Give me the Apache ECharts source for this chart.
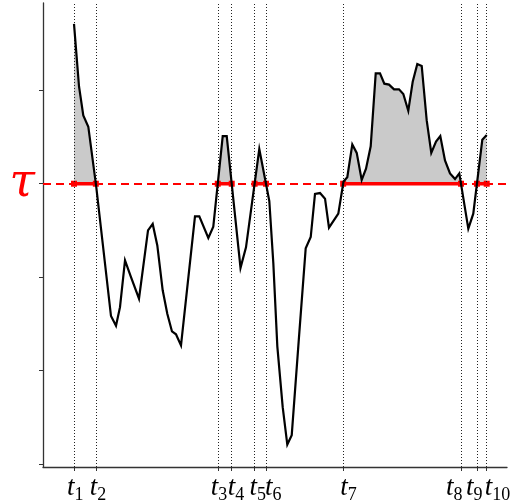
<!DOCTYPE html>
<html>
<head>
<meta charset="utf-8">
<script src="https://cdn.jsdelivr.net/npm/echarts@6/dist/echarts.min.js"></script>
<style>
  html, body { margin: 0; padding: 0; background: #ffffff; }
  #chart { width: 514px; height: 501px; }
</style>
</head>
<body>
<div id="chart"></div>
<script>
// Signal samples (time, value); the threshold tau sits at 0
const times = [
  0, 1.09, 2.02, 3.11, 4.83, 8.04, 9.13, 10.0, 11.09, 12.33, 14.13, 16.09, 17.11,
  18.11, 19.28, 20.28, 21.3, 22.17, 23.26, 26.3, 27.24, 29.2, 30.28, 32.33, 33.2,
  36.2, 37.39, 40.28, 42.46, 43.33, 44.2, 45.37, 46.37, 47.33, 48.91, 50.37, 51.46,
  52.39, 53.48, 54.57, 55.43, 57.46, 58.59, 59.41, 60.5, 61.46, 62.54, 63.48, 64.5,
  65.59, 66.52, 67.46, 68.48, 69.57, 70.65, 71.59, 72.67, 73.63, 74.63, 75.59,
  76.67, 77.67, 78.7, 79.63, 80.65, 81.74, 82.83, 83.76, 85.72, 86.8, 88.76, 89.72
];
const values = [
  1.71, 1.04, 0.73, 0.61, -0.03, -1.415, -1.52, -1.32, -0.82, -0.99, -1.23, -0.5, -0.43,
  -0.66, -1.14, -1.39, -1.58, -1.61, -1.73, -0.35, -0.35, -0.58, -0.46, 0.51, 0.51,
  -0.9, -0.68, 0.37, -0.185, -0.85, -1.74, -2.39, -2.79, -2.69, -1.64, -0.69, -0.57,
  -0.11, -0.1, -0.16, -0.47, -0.32, 0.024, 0.07, 0.42, 0.33, 0.04, 0.16, 0.4,
  1.18, 1.18, 1.07, 1.06, 1.01, 1.01, 0.96, 0.78, 1.09, 1.28, 1.26,
  0.68, 0.33, 0.45, 0.51, 0.25, 0.11, 0.05, 0.11, -0.48, -0.32, 0.47, 0.52
];
const tau = 0;
const tauLabel = 'τ';
const yTickValues = [-3, -2, -1, 0, 1];
const tickSubscripts = ['1', '2', '3', '4', '5', '6', '7', '8', '9', '10'];
// Horizontal nudge (px) of each boundary label so crowded labels do not collide
const labelShift = [-7, -6, -7, -4, -5, -1, -3, -15, -11, -2];

const X_MIN = -6.74, X_MAX = 94.13;
const Y_MIN = -3.03, Y_MAX = 1.933;

// Boundary times: start, every crossing of tau, end
const bounds = [times[0]];
for (let i = 0; i < times.length - 1; i++) {
  const a = values[i] - tau, b = values[i + 1] - tau;
  if (a * b < 0) {
    bounds.push(times[i] + (tau - values[i]) / (values[i + 1] - values[i]) * (times[i + 1] - times[i]));
  }
}
bounds.push(times[times.length - 1]);

// Curve clipped from below at tau, used for the shaded excess area
const excess = [];
for (let i = 0; i < times.length; i++) {
  excess.push([times[i], Math.max(values[i], tau)]);
  if (i < times.length - 1) {
    const a = values[i] - tau, b = values[i + 1] - tau;
    if (a * b < 0) {
      const tc = times[i] + (tau - values[i]) / (values[i + 1] - values[i]) * (times[i + 1] - times[i]);
      excess.push([tc, tau]);
    }
  }
}

const signal = times.map((t, i) => [t, values[i]]);

// Intervals where the signal is above tau
const intervals = [];
for (let k = 0; k + 1 < bounds.length; k += 2) intervals.push([bounds[k], bounds[k + 1]]);

const series = [
  {
    type: 'line',
    data: excess,
    symbol: 'none',
    lineStyle: { opacity: 0, width: 0 },
    areaStyle: { color: '#cacaca', opacity: 1, origin: 'auto' },
    z: 1,
    silent: true,
    animation: false,
    markLine: {
      silent: true,
      symbol: ['none', 'none'],
      label: { show: false },
      lineStyle: { color: '#222', width: 1, type: [1, 2] },
      data: bounds.map(t => ({ xAxis: t })),
      animation: false
    }
  },
  {
    type: 'line',
    data: [],
    z: 3,
    markLine: {
      silent: true,
      symbol: ['none', 'none'],
      label: { show: false },
      lineStyle: { color: '#ff0000', width: 2, type: [8, 5] },
      data: [{ yAxis: tau }],
      animation: false
    },
    markPoint: {
      silent: true,
      symbol: 'circle',
      symbolSize: 0,
      animation: false,
      data: bounds.map((t, i) => ({
        coord: [t, Y_MIN],
        label: {
          show: true,
          position: 'bottom',
          align: 'left',
          offset: [labelShift[i], 2],
          formatter: '{t|t}{s|' + tickSubscripts[i] + '}',
          rich: {
            t: { fontFamily: 'Liberation Serif', fontStyle: 'italic', fontSize: 27, color: '#000', verticalAlign: 'bottom' },
            s: { fontFamily: 'Liberation Serif', fontSize: 18, color: '#000', verticalAlign: 'bottom', padding: [0, 0, -3, 0] }
          }
        }
      }))
    }
  }
];

intervals.forEach(iv => {
  series.push({
    type: 'line',
    data: [[iv[0], tau], [iv[1], tau]],
    symbol: 'rect',
    symbolSize: 6,
    itemStyle: { color: '#ff0000' },
    lineStyle: { color: '#ff0000', width: 3.5 },
    z: 4,
    silent: true,
    animation: false
  });
});

series.push({
  type: 'line',
  data: signal,
  symbol: 'none',
  lineStyle: { color: '#000', width: 2.2, join: 'miter' },
  z: 5,
  silent: true,
  animation: false
});

const chart = echarts.init(document.getElementById('chart'), null, { renderer: 'canvas' });
chart.setOption({
  animation: false,
  backgroundColor: '#ffffff',
  grid: { left: 43, right: 7, top: 3, bottom: 34, containLabel: false },
  xAxis: {
    type: 'value',
    min: X_MIN,
    max: X_MAX,
    axisLine: { show: true, onZero: false, lineStyle: { color: '#333', width: 1.3 } },
    axisTick: { show: true, length: 4, customValues: bounds, lineStyle: { color: '#333', width: 1 } },
    axisLabel: { show: false },
    splitLine: { show: false }
  },
  yAxis: {
    type: 'value',
    min: Y_MIN,
    max: Y_MAX,
    axisLine: { show: true, onZero: false, lineStyle: { color: '#333', width: 1.3 } },
    axisTick: { show: true, length: 4, customValues: yTickValues, lineStyle: { color: '#333', width: 1 } },
    axisLabel: {
      show: true,
      customValues: [tau],
      formatter: () => tauLabel,
      color: '#ff0000',
      fontFamily: 'DejaVu Serif',
      fontStyle: 'italic',
      fontSize: 46,
      margin: 8,
      padding: [0, 0, 22, 0]
    },
    splitLine: { show: false }
  },
  series: series
});
</script>
</body>
</html>
